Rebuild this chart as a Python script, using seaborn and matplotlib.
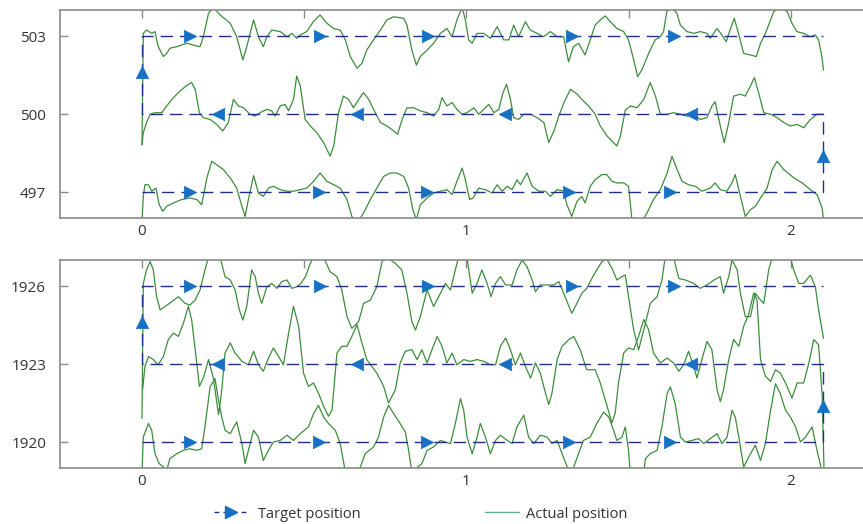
import matplotlib
matplotlib.use("Agg")
import matplotlib.pyplot as plt
import seaborn as sns
import pandas as pd
from matplotlib.lines import Line2D

# ---------------- data ----------------
TARGET_X = [0.0, 2.1, 2.1, 0.0, 0.0, 2.1]
TARGET_ROWS_TOP = [497, 500, 503]
TARGET_ROWS_BOT = [1920, 1923, 1926]

ARROW_RIGHT_UPPER_X = [0.148, 0.549, 0.883, 1.327, 1.639]
ARROW_RIGHT_LOWER_X = [0.148, 0.545, 0.879, 1.315, 1.628]
ARROW_LEFT_X = [0.235, 0.662, 1.120, 1.694]
ARROW_UP_X = [0.0, 2.1]
ARROW_UP_OFFSET = [1.63, -1.62]   # relative to middle row

X_TICKS = [0, 0.5, 1, 1.5, 2]
X_LABELS = ["0", "", "1", "", "2"]

TOP_503 = [(0.000, 498.81), (0.004, 503.10), (0.014, 503.23), (0.030, 503.10), (0.040, 503.17),
           (0.050, 502.59), (0.066, 502.21), (0.076, 502.33), (0.086, 502.53), (0.107, 502.59),
           (0.138, 502.72), (0.158, 502.65), (0.179, 502.59), (0.189, 502.97), (0.205, 503.87),
           (0.220, 504.10), (0.241, 503.81), (0.272, 503.49), (0.292, 502.97), (0.311, 502.08),
           (0.323, 502.59), (0.344, 503.62), (0.359, 502.97), (0.374, 502.59), (0.385, 502.97),
           (0.400, 503.23), (0.426, 503.17), (0.447, 502.97), (0.462, 503.10), (0.477, 502.91),
           (0.488, 503.04), (0.508, 503.17), (0.528, 503.55), (0.549, 503.81), (0.570, 503.49),
           (0.591, 503.29), (0.611, 503.23), (0.627, 502.85), (0.642, 502.21), (0.663, 501.76),
           (0.678, 501.95), (0.693, 502.46), (0.714, 502.85), (0.735, 503.23), (0.755, 503.62),
           (0.776, 503.74), (0.807, 503.68), (0.817, 503.42), (0.832, 502.46), (0.846, 501.88),
           (0.858, 502.21), (0.879, 502.46), (0.899, 502.72), (0.920, 503.10), (0.940, 503.29),
           (0.956, 502.97), (0.971, 503.62), (0.987, 504.10), (0.997, 503.62), (1.007, 502.85),
           (1.018, 502.72), (1.033, 503.10), (1.054, 503.10), (1.074, 502.91), (1.095, 503.36),
           (1.115, 502.85), (1.131, 502.85), (1.146, 503.42), (1.161, 502.97), (1.182, 503.55),
           (1.197, 503.23), (1.218, 503.10), (1.238, 502.97), (1.259, 503.17), (1.280, 502.97),
           (1.300, 502.97), (1.315, 502.01), (1.330, 502.59), (1.346, 502.72), (1.366, 502.27),
           (1.382, 502.85), (1.397, 503.42), (1.413, 503.62), (1.428, 503.77), (1.444, 503.55),
           (1.464, 503.29), (1.485, 503.17), (1.500, 502.85), (1.516, 502.08), (1.528, 501.44),
           (1.541, 501.69), (1.562, 502.33), (1.582, 502.85), (1.598, 502.97), (1.608, 503.17),
           (1.618, 503.94), (1.634, 504.10), (1.649, 503.87), (1.660, 503.42), (1.680, 503.17),
           (1.701, 503.10), (1.721, 503.17), (1.742, 503.10), (1.752, 502.91), (1.773, 503.29),
           (1.788, 503.04), (1.801, 502.78), (1.813, 503.23), (1.826, 503.68), (1.839, 503.10),
           (1.855, 502.33), (1.876, 502.27), (1.894, 502.21), (1.907, 502.72), (1.922, 503.10),
           (1.938, 503.62), (1.948, 503.94), (1.968, 504.10), (1.989, 503.94), (2.004, 503.49),
           (2.019, 503.17), (2.040, 503.10), (2.060, 502.97), (2.076, 503.04), (2.086, 502.85),
           (2.096, 502.21), (2.101, 501.69)]

TOP_500 = [(0.000, 498.83), (0.004, 499.28), (0.014, 499.67), (0.025, 499.99), (0.040, 500.05),
           (0.061, 500.05), (0.076, 500.31), (0.097, 500.63), (0.117, 500.88), (0.138, 501.10),
           (0.153, 501.21), (0.164, 500.95), (0.177, 500.05), (0.189, 499.86), (0.210, 499.79),
           (0.230, 499.60), (0.249, 499.35), (0.266, 499.67), (0.282, 500.56), (0.297, 500.31),
           (0.313, 500.24), (0.333, 499.99), (0.349, 499.92), (0.364, 500.05), (0.385, 500.18),
           (0.400, 500.12), (0.410, 499.92), (0.426, 500.31), (0.441, 500.37), (0.452, 500.12),
           (0.467, 500.56), (0.477, 501.46), (0.488, 501.08), (0.503, 499.79), (0.519, 499.54),
           (0.539, 499.28), (0.560, 498.90), (0.580, 498.38), (0.591, 498.77), (0.606, 500.05),
           (0.621, 500.69), (0.637, 500.56), (0.652, 500.24), (0.668, 500.56), (0.683, 500.82),
           (0.699, 500.56), (0.719, 500.05), (0.735, 499.67), (0.755, 499.54), (0.776, 499.35),
           (0.788, 499.22), (0.802, 499.79), (0.817, 500.24), (0.837, 500.24), (0.858, 500.12),
           (0.879, 500.05), (0.899, 499.92), (0.915, 500.18), (0.925, 500.63), (0.940, 500.31),
           (0.956, 500.44), (0.971, 500.18), (0.987, 499.99), (1.002, 500.05), (1.023, 500.24),
           (1.038, 499.99), (1.054, 500.18), (1.069, 500.37), (1.085, 500.05), (1.100, 500.18),
           (1.113, 500.82), (1.124, 501.14), (1.136, 500.56), (1.146, 499.86), (1.161, 499.79),
           (1.177, 499.99), (1.198, 499.99), (1.218, 499.86), (1.239, 499.67), (1.254, 498.90),
           (1.270, 499.35), (1.285, 499.92), (1.301, 500.44), (1.321, 500.95), (1.342, 500.76),
           (1.356, 500.56), (1.377, 500.31), (1.397, 499.99), (1.413, 499.54), (1.434, 499.15),
           (1.454, 498.90), (1.464, 498.77), (1.475, 499.15), (1.490, 500.15), (1.506, 500.31),
           (1.526, 500.24), (1.547, 500.56), (1.567, 501.21), (1.583, 500.69), (1.598, 499.99),
           (1.619, 499.99), (1.639, 500.05), (1.660, 499.99), (1.680, 499.92), (1.701, 499.99),
           (1.721, 499.79), (1.742, 499.86), (1.757, 500.31), (1.767, 500.47), (1.783, 499.54),
           (1.795, 498.90), (1.809, 499.67), (1.824, 500.69), (1.845, 500.76), (1.860, 500.69),
           (1.876, 501.08), (1.888, 501.40), (1.901, 500.82), (1.917, 500.05), (1.938, 499.99),
           (1.958, 499.86), (1.979, 499.67), (1.999, 499.54), (2.020, 499.60), (2.040, 499.47),
           (2.061, 499.79), (2.081, 499.99), (2.101, 499.99)]

TOP_497 = [(0.000, 495.85), (0.004, 496.83), (0.009, 497.28), (0.020, 497.28), (0.030, 497.03),
           (0.043, 497.15), (0.053, 496.51), (0.064, 496.26), (0.076, 496.45), (0.097, 496.58),
           (0.122, 496.71), (0.148, 496.77), (0.169, 496.71), (0.184, 496.51), (0.200, 497.54),
           (0.215, 498.18), (0.230, 498.05), (0.251, 497.86), (0.272, 497.54), (0.292, 497.15),
           (0.308, 496.45), (0.318, 496.06), (0.328, 496.71), (0.344, 497.63), (0.359, 496.96),
           (0.374, 496.83), (0.390, 497.15), (0.405, 497.22), (0.426, 497.09), (0.447, 497.03),
           (0.467, 497.03), (0.488, 497.09), (0.508, 497.15), (0.529, 497.41), (0.549, 497.73),
           (0.570, 497.41), (0.591, 497.28), (0.611, 497.15), (0.632, 496.71), (0.647, 496.06),
           (0.663, 495.81), (0.683, 496.19), (0.704, 496.71), (0.724, 497.15), (0.745, 497.60),
           (0.765, 497.73), (0.786, 497.73), (0.807, 497.60), (0.822, 497.15), (0.835, 496.32),
           (0.846, 495.94), (0.858, 496.51), (0.879, 496.77), (0.899, 496.96), (0.920, 497.03),
           (0.940, 497.09), (0.956, 496.90), (0.971, 497.41), (0.987, 497.92), (0.997, 497.47),
           (1.010, 496.71), (1.021, 496.77), (1.038, 497.15), (1.059, 497.09), (1.079, 496.96),
           (1.095, 497.28), (1.110, 497.03), (1.126, 497.22), (1.141, 497.09), (1.156, 497.47),
           (1.167, 497.28), (1.187, 497.73), (1.203, 497.22), (1.223, 497.03), (1.244, 497.03),
           (1.259, 496.83), (1.280, 497.09), (1.300, 497.03), (1.310, 496.51), (1.325, 496.06),
           (1.341, 496.64), (1.356, 496.83), (1.366, 496.58), (1.382, 497.22), (1.397, 497.47),
           (1.418, 497.67), (1.433, 497.67), (1.449, 497.41), (1.464, 497.35), (1.485, 497.35),
           (1.500, 497.22), (1.510, 496.00), (1.531, 495.68), (1.557, 496.19), (1.577, 496.71),
           (1.598, 497.09), (1.619, 497.73), (1.634, 498.37), (1.650, 497.86), (1.665, 497.41),
           (1.685, 497.28), (1.706, 497.22), (1.726, 497.03), (1.752, 497.15), (1.767, 497.35),
           (1.783, 497.09), (1.803, 497.03), (1.819, 497.35), (1.829, 497.67), (1.845, 496.83),
           (1.860, 496.06), (1.876, 496.32), (1.891, 496.45), (1.907, 496.77), (1.927, 497.15),
           (1.943, 497.86), (1.958, 498.18), (1.979, 497.86), (2.010, 497.54), (2.035, 497.35),
           (2.061, 497.09), (2.081, 496.90), (2.097, 496.38), (2.102, 495.85)]

BOT_1926 = [(0.000, 1920.91), (0.004, 1926.10), (0.014, 1926.62), (0.025, 1926.94), (0.035, 1926.62),
            (0.045, 1925.59), (0.056, 1925.08), (0.071, 1925.21), (0.092, 1925.40), (0.112, 1925.59),
            (0.133, 1925.33), (0.148, 1925.27), (0.164, 1925.46), (0.179, 1925.85), (0.194, 1926.62),
            (0.205, 1927.10), (0.241, 1927.10), (0.256, 1926.36), (0.272, 1926.23), (0.287, 1925.85),
            (0.300, 1925.08), (0.311, 1924.69), (0.323, 1925.21), (0.338, 1926.62), (0.349, 1926.36),
            (0.359, 1925.72), (0.369, 1925.33), (0.385, 1925.97), (0.400, 1926.10), (0.416, 1925.91),
            (0.431, 1926.17), (0.447, 1926.23), (0.462, 1925.91), (0.477, 1925.97), (0.490, 1926.10),
            (0.504, 1926.36), (0.519, 1926.87), (0.529, 1927.10), (0.560, 1927.10), (0.580, 1926.55),
            (0.601, 1926.36), (0.616, 1925.85), (0.632, 1924.82), (0.647, 1924.37), (0.668, 1924.63),
            (0.683, 1925.33), (0.704, 1925.46), (0.724, 1925.97), (0.740, 1926.94), (0.755, 1927.10),
            (0.781, 1926.87), (0.801, 1926.62), (0.817, 1925.72), (0.832, 1924.63), (0.843, 1924.31),
            (0.858, 1924.82), (0.879, 1925.85), (0.899, 1925.21), (0.920, 1925.72), (0.935, 1926.10),
            (0.951, 1925.85), (0.966, 1926.62), (0.976, 1927.10), (1.002, 1927.10), (1.018, 1925.72),
            (1.033, 1926.10), (1.048, 1926.62), (1.064, 1926.10), (1.076, 1925.59), (1.090, 1926.10),
            (1.105, 1926.36), (1.121, 1926.04), (1.141, 1926.04), (1.156, 1926.62), (1.172, 1927.00),
            (1.187, 1926.74), (1.203, 1926.23), (1.213, 1925.78), (1.228, 1926.04), (1.249, 1926.04),
            (1.270, 1926.04), (1.285, 1926.17), (1.300, 1925.72), (1.325, 1924.95), (1.341, 1925.33),
            (1.356, 1925.72), (1.371, 1925.91), (1.387, 1926.29), (1.402, 1926.62), (1.418, 1926.94),
            (1.433, 1927.03), (1.449, 1926.68), (1.464, 1926.23), (1.479, 1926.36), (1.490, 1926.42),
            (1.500, 1925.59), (1.516, 1924.31), (1.531, 1923.54), (1.552, 1924.56), (1.567, 1925.33),
            (1.588, 1925.59), (1.603, 1926.23), (1.613, 1927.10), (1.639, 1927.10), (1.655, 1926.29),
            (1.675, 1926.23), (1.701, 1926.10), (1.721, 1925.91), (1.742, 1926.04), (1.763, 1926.23),
            (1.783, 1926.36), (1.793, 1925.72), (1.809, 1926.36), (1.819, 1927.00), (1.835, 1926.62),
            (1.845, 1925.72), (1.860, 1924.82), (1.876, 1924.82), (1.891, 1925.72), (1.907, 1925.46),
            (1.917, 1925.33), (1.932, 1926.62), (1.943, 1927.10), (1.999, 1927.10), (2.009, 1926.62),
            (2.025, 1926.10), (2.040, 1926.10), (2.061, 1926.42), (2.076, 1925.97), (2.086, 1925.08),
            (2.101, 1923.99)]

BOT_1923 = [(0.002, 1922.01), (0.009, 1922.91), (0.020, 1923.29), (0.035, 1923.17), (0.050, 1922.97),
            (0.066, 1923.29), (0.081, 1923.94), (0.097, 1924.19), (0.112, 1924.06), (0.128, 1924.58),
            (0.143, 1925.22), (0.153, 1924.71), (0.164, 1923.55), (0.177, 1922.14), (0.191, 1922.53),
            (0.205, 1923.17), (0.220, 1922.46), (0.236, 1921.05), (0.246, 1922.01), (0.256, 1923.42),
            (0.272, 1923.81), (0.287, 1923.42), (0.308, 1923.10), (0.328, 1922.97), (0.344, 1923.49),
            (0.359, 1922.97), (0.374, 1922.72), (0.390, 1923.23), (0.405, 1923.62), (0.421, 1923.29),
            (0.436, 1922.97), (0.452, 1924.19), (0.467, 1925.22), (0.483, 1924.45), (0.498, 1922.65),
            (0.513, 1922.14), (0.529, 1922.27), (0.544, 1921.88), (0.560, 1921.37), (0.575, 1920.99),
            (0.586, 1921.24), (0.601, 1923.42), (0.616, 1923.68), (0.632, 1923.68), (0.647, 1924.06),
            (0.663, 1924.51), (0.678, 1923.81), (0.693, 1923.17), (0.724, 1922.65), (0.745, 1922.14),
            (0.760, 1921.50), (0.781, 1922.01), (0.796, 1923.04), (0.812, 1923.49), (0.832, 1923.55),
            (0.848, 1923.17), (0.863, 1923.55), (0.879, 1923.04), (0.894, 1923.55), (0.910, 1924.06),
            (0.925, 1923.68), (0.940, 1923.04), (0.956, 1923.42), (0.971, 1922.97), (0.992, 1923.17),
            (1.012, 1923.10), (1.033, 1923.17), (1.054, 1923.10), (1.074, 1922.97), (1.090, 1922.97),
            (1.105, 1923.68), (1.121, 1924.00), (1.136, 1923.55), (1.151, 1922.97), (1.167, 1923.42),
            (1.182, 1922.91), (1.198, 1922.46), (1.213, 1923.04), (1.228, 1922.65), (1.244, 1921.88),
            (1.254, 1921.44), (1.264, 1921.88), (1.280, 1923.17), (1.295, 1923.68), (1.316, 1923.94),
            (1.331, 1924.06), (1.351, 1923.55), (1.371, 1922.78), (1.397, 1922.78), (1.413, 1922.27),
            (1.434, 1921.37), (1.449, 1920.73), (1.459, 1921.12), (1.469, 1922.27), (1.485, 1923.42),
            (1.500, 1923.62), (1.516, 1923.55), (1.531, 1924.06), (1.547, 1924.71), (1.562, 1924.32),
            (1.577, 1923.42), (1.598, 1923.04), (1.619, 1923.23), (1.639, 1923.04), (1.655, 1922.72),
            (1.670, 1922.97), (1.685, 1923.49), (1.701, 1922.91), (1.711, 1922.46), (1.726, 1923.17),
            (1.742, 1923.87), (1.757, 1923.55), (1.773, 1922.01), (1.783, 1921.56), (1.793, 1922.01),
            (1.809, 1923.17), (1.824, 1923.94), (1.840, 1923.68), (1.855, 1924.45), (1.870, 1924.90),
            (1.886, 1925.73), (1.896, 1925.47), (1.907, 1923.17), (1.922, 1922.53), (1.938, 1922.33),
            (1.953, 1922.78), (1.968, 1922.65), (1.984, 1922.27), (2.004, 1921.69), (2.020, 1922.27),
            (2.040, 1922.27), (2.056, 1923.04), (2.071, 1923.94), (2.086, 1923.74), (2.097, 1921.80),
            (2.103, 1918.80)]

BOT_1920 = [(0.000, 1918.85), (0.004, 1920.19), (0.020, 1920.71), (0.030, 1920.45), (0.040, 1919.55),
            (0.053, 1919.17), (0.066, 1919.04), (0.076, 1918.90), (0.086, 1919.36), (0.107, 1919.55),
            (0.128, 1919.68), (0.148, 1919.74), (0.169, 1919.68), (0.184, 1919.74), (0.194, 1920.58),
            (0.210, 1922.12), (0.225, 1922.44), (0.236, 1921.60), (0.246, 1920.96), (0.256, 1920.45),
            (0.272, 1920.32), (0.292, 1920.77), (0.308, 1919.94), (0.318, 1919.17), (0.328, 1919.68),
            (0.344, 1920.45), (0.359, 1920.19), (0.374, 1919.29), (0.390, 1919.68), (0.405, 1920.00),
            (0.426, 1920.06), (0.447, 1920.26), (0.467, 1920.06), (0.488, 1920.32), (0.513, 1920.58),
            (0.529, 1921.09), (0.544, 1921.41), (0.560, 1920.96), (0.575, 1920.71), (0.596, 1920.45),
            (0.611, 1919.94), (0.627, 1918.85), (0.668, 1918.85), (0.688, 1919.55), (0.714, 1919.81),
            (0.729, 1920.19), (0.745, 1920.96), (0.760, 1921.41), (0.776, 1921.09), (0.796, 1920.71),
            (0.812, 1920.38), (0.822, 1919.68), (0.832, 1918.85), (0.863, 1919.17), (0.879, 1919.68),
            (0.899, 1919.81), (0.920, 1920.06), (0.935, 1920.00), (0.951, 1919.94), (0.966, 1920.71),
            (0.982, 1921.67), (0.992, 1921.22), (1.002, 1920.19), (1.018, 1919.55), (1.033, 1920.19),
            (1.043, 1920.71), (1.059, 1920.19), (1.074, 1919.55), (1.090, 1920.06), (1.105, 1920.26),
            (1.126, 1920.06), (1.141, 1919.94), (1.156, 1920.58), (1.177, 1921.03), (1.192, 1920.19),
            (1.208, 1919.94), (1.228, 1920.26), (1.249, 1920.19), (1.264, 1919.94), (1.280, 1920.06),
            (1.295, 1919.55), (1.311, 1919.04), (1.326, 1918.85), (1.342, 1919.42), (1.361, 1920.06),
            (1.382, 1920.19), (1.402, 1920.71), (1.423, 1921.15), (1.439, 1920.96), (1.454, 1920.45),
            (1.464, 1920.06), (1.480, 1920.19), (1.490, 1920.58), (1.500, 1919.68), (1.505, 1918.85),
            (1.547, 1918.85), (1.552, 1919.36), (1.567, 1919.55), (1.588, 1919.68), (1.603, 1920.58),
            (1.619, 1921.86), (1.629, 1922.12), (1.644, 1921.47), (1.660, 1920.19), (1.675, 1920.00),
            (1.696, 1920.06), (1.716, 1920.13), (1.732, 1919.94), (1.752, 1920.13), (1.773, 1920.32),
            (1.788, 1919.94), (1.804, 1920.19), (1.819, 1921.22), (1.829, 1920.96), (1.840, 1920.19),
            (1.855, 1919.04), (1.876, 1919.55), (1.891, 1919.87), (1.907, 1919.29), (1.922, 1919.94),
            (1.938, 1921.22), (1.953, 1922.24), (1.968, 1921.86), (1.984, 1921.22), (1.999, 1920.96),
            (2.015, 1920.58), (2.030, 1920.00), (2.046, 1920.19), (2.066, 1920.58), (2.081, 1919.68),
            (2.097, 1918.85)]

# ---------------- style ----------------
sns.set_theme(style="white")
plt.rcParams['font.family'] = ['Open Sans', 'DejaVu Sans']

NAVY = "#1f2f8a"
ARROW = "#1670c4"
GREEN = "#3d8c3d"
SPINE = "#8a8a8a"
TXT = "#333333"

W, H = 863, 524
fig = plt.figure(figsize=(W / 100, H / 100), dpi=100)
fig.patch.set_facecolor("white")

X0_PX, X_SCALE = 142.0, 324.35
XLIM = ((60 - X0_PX) / X_SCALE, (W - X0_PX) / X_SCALE)


def make_ax(top_px, bottom_px):
    return fig.add_axes([60 / W, 1 - bottom_px / H, 1 - 60 / W, (bottom_px - top_px) / H])


def draw_panel(ax, rows, traces):
    lo, mid, hi = rows
    for tr in traces:
        df = pd.DataFrame(tr, columns=["x", "y"])
        sns.lineplot(data=df, x="x", y="y", ax=ax, sort=False, estimator=None,
                     color=GREEN, linewidth=0.9, zorder=2)
    tgt = pd.DataFrame({"x": TARGET_X, "y": [lo, lo, mid, mid, hi, hi]})
    sns.lineplot(data=tgt, x="x", y="y", ax=ax, sort=False, estimator=None,
                 color=NAVY, linewidth=1.0, linestyle=(0, (9, 5)), zorder=3)
    arrows = [
        (ARROW_RIGHT_UPPER_X, [hi] * len(ARROW_RIGHT_UPPER_X), ">"),
        (ARROW_RIGHT_LOWER_X, [lo] * len(ARROW_RIGHT_LOWER_X), ">"),
        (ARROW_LEFT_X, [mid] * len(ARROW_LEFT_X), "<"),
        (ARROW_UP_X, [mid + o for o in ARROW_UP_OFFSET], "^"),
    ]
    for xs, ys, m in arrows:
        sns.scatterplot(x=xs, y=ys, ax=ax, marker=m, s=80, color=ARROW,
                        edgecolor=ARROW, linewidth=0.5, zorder=4)

    ax.set_xlim(*XLIM)
    ax.set_ylim(lo - 1, hi + 1)
    ax.set_xticks(X_TICKS)
    ax.set_xticklabels(X_LABELS)
    ax.set_yticks(rows)
    ax.set_yticklabels([str(r) for r in rows])
    ax.set_yticks([lo + 1, lo + 2, mid + 1, mid + 2], minor=True)
    ax.tick_params(axis="both", which="both", direction="in", length=6, width=1,
                   color=SPINE, labelsize=11, labelcolor=TXT)
    ax.tick_params(axis="x", top=True, pad=4)
    ax.tick_params(axis="y", left=True, pad=10)
    ax.set_xlabel("")
    ax.set_ylabel("")
    for side in ["left", "top", "bottom"]:
        ax.spines[side].set_visible(True)
        ax.spines[side].set_color(SPINE)
        ax.spines[side].set_linewidth(1.2)
    ax.spines["right"].set_visible(False)
    ax.set_facecolor("white")


ax_top = make_ax(10, 218)
draw_panel(ax_top, TARGET_ROWS_TOP, [TOP_497, TOP_500, TOP_503])
ax_bot = make_ax(260, 468)
draw_panel(ax_bot, TARGET_ROWS_BOT, [BOT_1920, BOT_1923, BOT_1926])

# legend
h_target = Line2D([], [], color=NAVY, linewidth=1.0, linestyle=(0, (3.5, 3)),
                  marker=">", markersize=9, markerfacecolor=ARROW, markeredgecolor=ARROW)
h_actual = Line2D([], [], color="#5fae98", linewidth=1.0)
leg_y = 1 - 514 / H
fig.legend(handles=[h_target], labels=["Target position"], loc="center left",
           bbox_to_anchor=(214 / W, leg_y), frameon=False, borderpad=0, borderaxespad=0,
           handlelength=2.3, handletextpad=0.75, numpoints=1, fontsize=10.5,
           labelcolor=TXT)
fig.legend(handles=[h_actual], labels=["Actual position"], loc="center left",
           bbox_to_anchor=(485 / W, leg_y), frameon=False, borderpad=0, borderaxespad=0,
           handlelength=2.3, handletextpad=0.5, fontsize=10.5, labelcolor=TXT)

fig.savefig("out.png", dpi=100, facecolor="white")
